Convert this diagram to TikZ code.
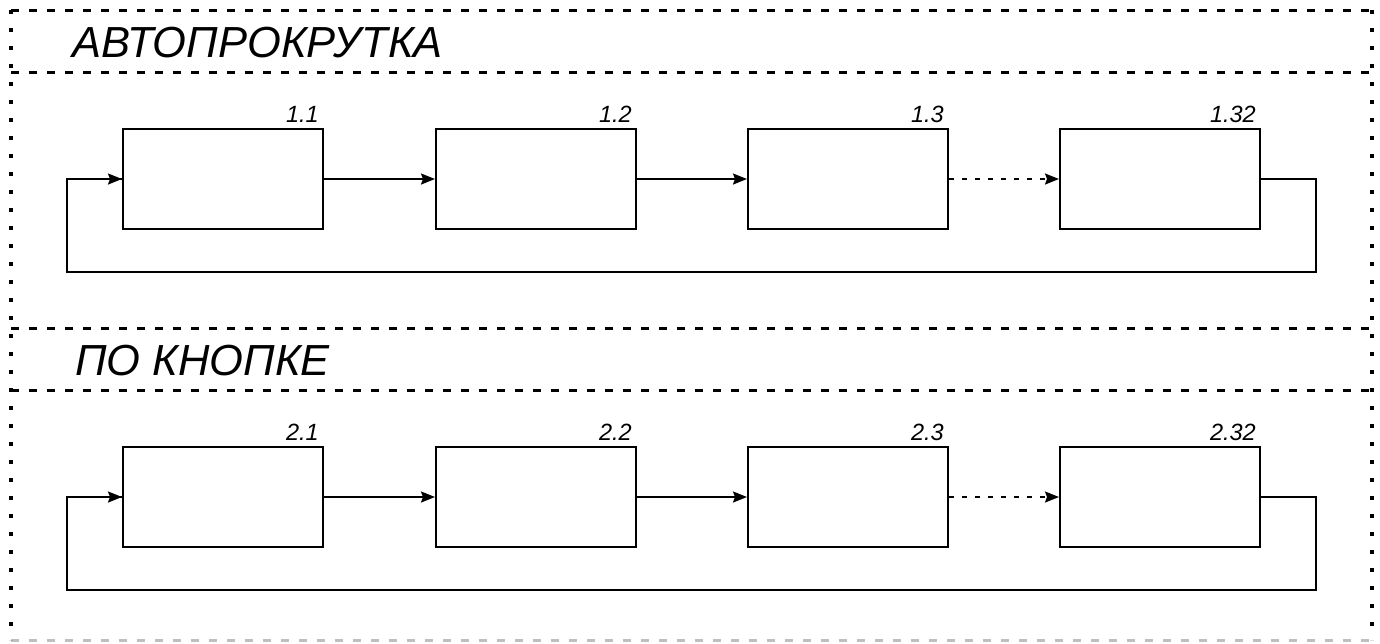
\documentclass[tikz,border=0pt]{standalone}
\usepackage{fontspec}
\setmainfont{Liberation Sans}
\usetikzlibrary{arrows.meta}
\tikzset{
  blk/.style={draw, line width=2pt, minimum width=200pt, minimum height=100pt, inner sep=0pt},
  lbl/.style={anchor=base east, inner sep=0pt, font=\fontsize{23.5}{26}\selectfont\itshape},
  ttl/.style={anchor=base west, inner sep=0pt, font=\fontsize{43.5}{50}\selectfont\itshape},
  conn/.style={line width=1.8pt, -{Stealth[length=14pt,width=11pt,inset=2pt]}},
  dotconn/.style={conn, dash pattern=on 5pt off 8pt},
  loopline/.style={line width=2pt},
  hborder/.style={line width=3pt, dash pattern=on 8pt off 10pt},
  vborder/.style={line width=3.2pt, dash pattern=on 4pt off 14pt},
}
\begin{document}
\begin{tikzpicture}[x=1pt,y=-1pt]
\useasboundingbox (0,0) rectangle (1380,643);
% frame
\draw[hborder] (11,10) -- (1372,10);
\draw[hborder] (11,72) -- (1372,72);
\draw[hborder] (11,328) -- (1372,328);
\draw[hborder] (11,390) -- (1372,390);
\draw[hborder, gray!50] (11,640) -- (1372,640);
\draw[vborder] (11,10) -- (11,640);
\draw[vborder] (1372,10) -- (1372,640);
% titles
\node[ttl] (t1) at (72,57) {АВТОПРОКРУТКА};
\node[ttl] (t2) at (75,375) {ПО КНОПКЕ};
% row 1
\node[blk] (a1) at (223,179) {};
\node[blk] (a2) at (536,179) {};
\node[blk] (a3) at (848,179) {};
\node[blk] (a4) at (1160,179) {};
\node[lbl] (la1) at ([shift={(-5,-6)}]a1.north east) {1.1};
\node[lbl] (la2) at ([shift={(-5,-6)}]a2.north east) {1.2};
\node[lbl] (la3) at ([shift={(-5,-6)}]a3.north east) {1.3};
\node[lbl] (la4) at ([shift={(-5,-6)}]a4.north east) {1.32};
\draw[conn] (a1.east) -- (a2.west);
\draw[conn] (a2.east) -- (a3.west);
\draw[dotconn] (a3.east) -- (a4.west);
\coordinate (ar) at (1316,272);
\coordinate (al) at (67,272);
\draw[loopline] (a4.east) -| (ar) -- (al) |- (a1.west);
\draw[conn] (al |- a1.west) -- (a1.west);
% row 2
\node[blk] (b1) at (223,497) {};
\node[blk] (b2) at (536,497) {};
\node[blk] (b3) at (848,497) {};
\node[blk] (b4) at (1160,497) {};
\node[lbl] (lb1) at ([shift={(-5,-6)}]b1.north east) {2.1};
\node[lbl] (lb2) at ([shift={(-5,-6)}]b2.north east) {2.2};
\node[lbl] (lb3) at ([shift={(-5,-6)}]b3.north east) {2.3};
\node[lbl] (lb4) at ([shift={(-5,-6)}]b4.north east) {2.32};
\draw[conn] (b1.east) -- (b2.west);
\draw[conn] (b2.east) -- (b3.west);
\draw[dotconn] (b3.east) -- (b4.west);
\coordinate (br) at (1316,590);
\coordinate (bl) at (67,590);
\draw[loopline] (b4.east) -| (br) -- (bl) |- (b1.west);
\draw[conn] (bl |- b1.west) -- (b1.west);
\end{tikzpicture}
\end{document}
